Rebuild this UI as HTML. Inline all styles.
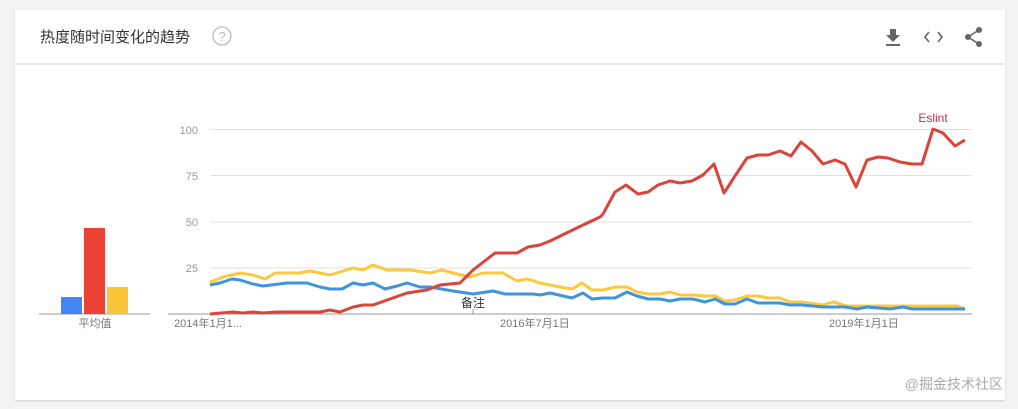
<!DOCTYPE html>
<html><head><meta charset="utf-8"><style>
body{margin:0;width:1018px;height:409px;background:#f3f3f3;font-family:"Liberation Sans","Noto Sans CJK SC",sans-serif;overflow:hidden;position:relative}
.card{position:absolute;left:15px;top:10px;width:990px;height:390px;background:#fff;box-shadow:0 1px 2px rgba(0,0,0,.15)}
</style></head><body>
<div class="card"></div>
<svg width="1018" height="409" style="position:absolute;left:0;top:0">
<line x1="15" y1="64" x2="1005" y2="64" stroke="#e0e0e0" stroke-width="1.5"/>
<text x="40" y="42" font-size="15" fill="#333" font-family="Liberation Sans,Noto Sans CJK SC,sans-serif">热度随时间变化的趋势</text>
<circle cx="222" cy="36" r="9" fill="none" stroke="#bbb" stroke-width="1.3"/>
<text x="222" y="41" font-size="13" fill="#bbb" text-anchor="middle">?</text>
<!-- download -->
<rect x="890" y="29" width="6" height="7" fill="#666"/><polygon points="886,35 900,35 893,42" fill="#666"/><rect x="886" y="44" width="14" height="2" fill="#666"/>
<polyline points="929,32 925,37 929,42" fill="none" stroke="#666" stroke-width="1.6"/><polyline points="938,32 942,37 938,42" fill="none" stroke="#666" stroke-width="1.6"/>
<polyline points="979,30 968,37 979,44" fill="none" stroke="#666" stroke-width="1.6"/><circle cx="979" cy="30" r="3" fill="#666"/><circle cx="968" cy="37" r="3" fill="#666"/><circle cx="979" cy="44" r="3" fill="#666"/>
<g stroke="#e0e0e0" stroke-width="1"><line x1="210" y1="129.5" x2="972" y2="129.5"/><line x1="210" y1="175.5" x2="972" y2="175.5"/><line x1="210" y1="222" x2="972" y2="222"/><line x1="210" y1="268" x2="972" y2="268"/></g>
<line x1="168" y1="314" x2="972" y2="314" stroke="#999" stroke-width="1"/>
<g font-size="11" fill="#999" text-anchor="end"><text x="198" y="134">100</text><text x="198" y="180">75</text><text x="198" y="226">50</text><text x="198" y="272">25</text></g>
<g font-size="11" fill="#777"><text x="174" y="327">2014年1月1...</text><text x="500" y="327">2016年7月1日</text><text x="829" y="327">2019年1月1日</text></g>
<line x1="473" y1="309" x2="473" y2="314" stroke="#999"/>
<text x="473" y="307" font-size="12" fill="#333" text-anchor="middle">备注</text>
<text x="933" y="122" font-size="12" fill="#c62d50" text-anchor="middle">Eslint</text>
<!-- bars -->
<line x1="39" y1="314" x2="150" y2="314" stroke="#999"/>
<rect x="61" y="297" width="21" height="17" fill="#4285f4"/>
<rect x="84" y="228" width="21" height="86" fill="#ea4335"/>
<rect x="107" y="287" width="21" height="27" fill="#fbc53a"/>
<text x="95" y="327" font-size="11" fill="#777" text-anchor="middle">平均值</text>
<g fill="none" stroke-width="3" stroke-linejoin="round">
<polyline stroke="#fbc93f" points="210,282 223,277 240,273 253,275 265,279 275,273 300,273 310,271 330,275 353,268 363,270 373,265 387,270 410,270 430,273 442,270 453,273 470,277 483,273 503,273 517,281 527,279 540,283 560,287 572,289 582,283 592,290 600,290 603,290 615,287 627,287 637,292 648,294 660,294 670,292 680,295 693,295 705,296 715,296 725,301 735,300 747,296 758,296 768,298 780,298 790,302 802,302 823,305 833,302 847,306 923,306 933,306 957,306 965,309"/>
<polyline stroke="#3f94dc" points="210,285 220,283 232,279 240,280 253,284 263,286 287,283 307,283 320,287 330,289 342,289 353,283 363,285 373,283 385,289 397,286 407,283 420,287 430,287 453,291 473,294 493,291 505,294 533,294 540,295 550,293 572,298 583,293 592,299 603,298 615,298 627,292 637,296 648,299 660,299 670,301 680,299 693,299 705,302 715,299 725,304 735,304 747,299 758,303 780,303 790,305 802,305 823,307 845,307 857,309 867,307 890,309 903,307 912,309 965,309"/>
<polyline stroke="#d9443b" points="210,314 233,312 243,313 253,312 263,313 277,312 320,312 330,310 340,312 353,307 363,305 373,305 407,293 427,290 440,285 460,283 473,270 495,253 517,253 528,247 540,245 550,241 583,225 600,217 603,214 615,192 626,185 638,194 648,192 658,185 670,181 680,183 692,181 703,175 714,164 724,193 735,176 747,158 758,155 768,155 780,151 791,156 801,142 812,151 823,164 835,160 845,164 856,187 867,160 878,157 888,158 900,162 912,164 922,164 933,129 943,133 955,146 965,140"/>
</g>
<text x="1003" y="389" font-size="14" fill="#aaa" text-anchor="end" font-family="Liberation Sans,Noto Sans CJK SC,sans-serif">@掘金技术社区</text>
</svg>
</body></html>
